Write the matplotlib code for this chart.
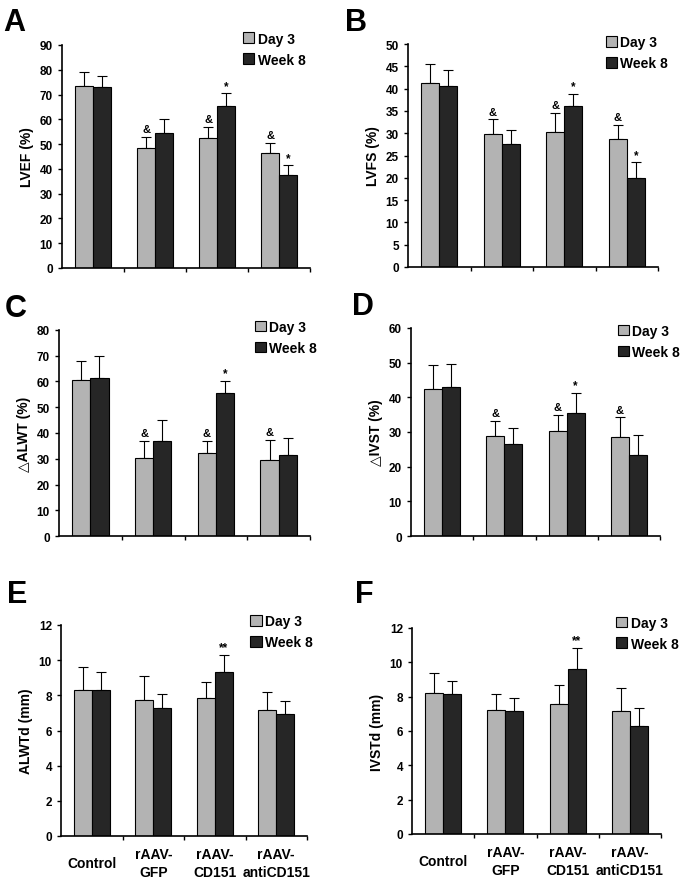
import numpy as np
from matplotlib import pyplot as plt

plt.rcParams['font.family'] = ['Liberation Sans', 'DejaVu Sans']
plt.rcParams['font.weight'] = 'bold'

groups = ['Control', 'rAAV-\nGFP', 'rAAV-\nCD151', 'rAAV-\nantiCD151']

# panel A: LVEF (%)
lvef_d3 = [73.5, 48.5, 52.5, 46.5]
lvef_d3_err = [5.5, 4.5, 4.5, 4.0]
lvef_w8 = [73.0, 54.5, 65.5, 37.5]
lvef_w8_err = [4.5, 5.5, 5.0, 4.0]

# panel B: LVFS (%)
lvfs_d3 = [41.3, 29.9, 30.2, 28.6]
lvfs_d3_err = [4.2, 3.2, 4.3, 3.3]
lvfs_w8 = [40.6, 27.5, 36.1, 20.0]
lvfs_w8_err = [3.5, 3.2, 2.8, 3.5]

# panel C: delta ALWT (%)
alwt_d3 = [60.5, 30.3, 32.2, 29.6]
alwt_d3_err = [7.5, 6.5, 4.6, 7.6]
alwt_w8 = [61.3, 36.8, 55.5, 31.5]
alwt_w8_err = [8.7, 8.2, 4.8, 6.5]

# panel D: delta IVST (%)
ivst_d3 = [42.4, 28.8, 30.2, 28.6]
ivst_d3_err = [6.8, 4.5, 4.8, 5.6]
ivst_w8 = [43.0, 26.6, 35.5, 23.3]
ivst_w8_err = [6.7, 4.6, 5.8, 5.9]

# panel E: ALWTd (mm)
alwtd_d3 = [8.3, 7.75, 7.85, 7.15]
alwtd_d3_err = [1.3, 1.35, 0.9, 1.05]
alwtd_w8 = [8.3, 7.3, 9.3, 6.95]
alwtd_w8_err = [1.05, 0.8, 1.0, 0.7]

# panel F: IVSTd (mm)
ivstd_d3 = [8.2, 7.25, 7.6, 7.15]
ivstd_d3_err = [1.2, 0.9, 1.1, 1.35]
ivstd_w8 = [8.15, 7.15, 9.6, 6.3]
ivstd_w8_err = [0.75, 0.75, 1.25, 1.05]

# significance marks (day 3, week 8) per group
marks_abcd = [('', ''), ('&', ''), ('&', '*'), ('&', '*')]
marks_cd = [('', ''), ('&', ''), ('&', '*'), ('&', '')]
marks_ef = [('', ''), ('', ''), ('', '**'), ('', '')]

W, H = 685, 879
fig = plt.figure(figsize=(W/100, H/100), dpi=100)

def rect(l, r, t, b):
    return [l/W, 1-b/H, (r-l)/W, (b-t)/H]

def panel(box, d3, d3e, w8, w8e, ymax, ystep, ylabel, marks, leg_xy, xlabels=False):
    ax = fig.add_axes(rect(*box))
    x = np.arange(len(d3))
    bw = 0.29
    ax.bar(x - bw/2, d3, bw, color='#b3b3b3', edgecolor='black', linewidth=0.8, label='Day 3', zorder=2)
    ax.bar(x + bw/2, w8, bw, color='#262626', edgecolor='black', linewidth=0.8, label='Week 8', zorder=2)
    ax.errorbar(x - bw/2, d3, yerr=[np.zeros(len(d3)), d3e], fmt='none', ecolor='black',
                elinewidth=0.8, capsize=3.5, capthick=0.8, zorder=1)
    ax.errorbar(x + bw/2, w8, yerr=[np.zeros(len(w8)), w8e], fmt='none', ecolor='black',
                elinewidth=0.8, capsize=3.5, capthick=0.8, zorder=1)
    for i, (m1, m2) in enumerate(marks):
        if m1:
            ax.annotate(m1, (x[i] - bw/2, d3[i] + d3e[i]), xytext=(0, 2), textcoords='offset points',
                        ha='center', va='bottom', fontsize=8, fontweight='bold')
        if m2:
            ax.annotate(m2, (x[i] + bw/2, w8[i] + w8e[i]), xytext=(0, 1), textcoords='offset points',
                        ha='center', va='bottom', fontsize=8.5, fontweight='bold')
    ax.set_xlim(-0.5, 3.5)
    ax.set_ylim(0, ymax)
    ax.set_yticks(np.arange(0, ymax + ystep/2, ystep))
    ax.set_xticks([0.5, 1.5, 2.5, 3.5])
    ax.set_xticklabels([])
    ax.tick_params(axis='x', which='major', direction='out', length=3, width=1)
    ax.tick_params(axis='y', direction='out', length=3, width=1, labelsize=8.5)
    for lab in ax.get_yticklabels():
        lab.set_fontweight('bold')
    if xlabels:
        ax.set_xticks(x, groups, minor=True)
        ax.tick_params(axis='x', which='minor', length=0, pad=19.5, labelsize=10)
        for lab in ax.get_xticklabels(minor=True):
            lab.set_verticalalignment('center')
            lab.set_fontweight('bold')
            lab.set_linespacing(1.3)
    ax.set_ylabel(ylabel, fontsize=10, fontweight='bold')
    for s in ['top', 'right']:
        ax.spines[s].set_visible(False)
    for s in ['left', 'bottom']:
        ax.spines[s].set_linewidth(1.2)
    ax.legend(loc='upper left', bbox_to_anchor=leg_xy, frameon=False,
              handlelength=0.8, handleheight=0.8, handletextpad=0.25,
              labelspacing=0.5, borderaxespad=0, borderpad=0,
              prop={'weight': 'bold', 'size': 10})
    return ax

panel((62, 310, 46, 269), lvef_d3, lvef_d3_err, lvef_w8, lvef_w8_err, 90, 10,
      'LVEF (%)', marks_abcd, (0.73, 1.06))
panel((408, 658, 45, 268), lvfs_d3, lvfs_d3_err, lvfs_w8, lvfs_w8_err, 50, 5,
      'LVFS (%)', marks_abcd, (0.79, 1.04))
panel((59, 310, 331, 537), alwt_d3, alwt_d3_err, alwt_w8, alwt_w8_err, 80, 10,
      '\u25b3ALWT (%)', marks_cd, (0.78, 1.05))
panel((411, 660, 329, 537), ivst_d3, ivst_d3_err, ivst_w8, ivst_w8_err, 60, 10,
      '\u25b3IVST (%)', marks_cd, (0.83, 1.02))
panel((61, 307, 626, 837), alwtd_d3, alwtd_d3_err, alwtd_w8, alwtd_w8_err, 12, 2,
      'ALWTd (mm)', marks_ef, (0.77, 1.05), xlabels=True)
panel((412, 661, 629, 835), ivstd_d3, ivstd_d3_err, ivstd_w8, ivstd_w8_err, 12, 2,
      'IVSTd (mm)', marks_ef, (0.82, 1.06), xlabels=True)

letters = [('A', 3, 8), ('B', 345, 8), ('C', 5, 294), ('D', 352, 292), ('E', 7, 580), ('F', 355, 580)]
for t, lx, ly in letters:
    fig.text(lx/W, 1-ly/H, t, fontsize=22, fontweight='bold', ha='left', va='top')

fig.savefig('out.png', dpi=100)
